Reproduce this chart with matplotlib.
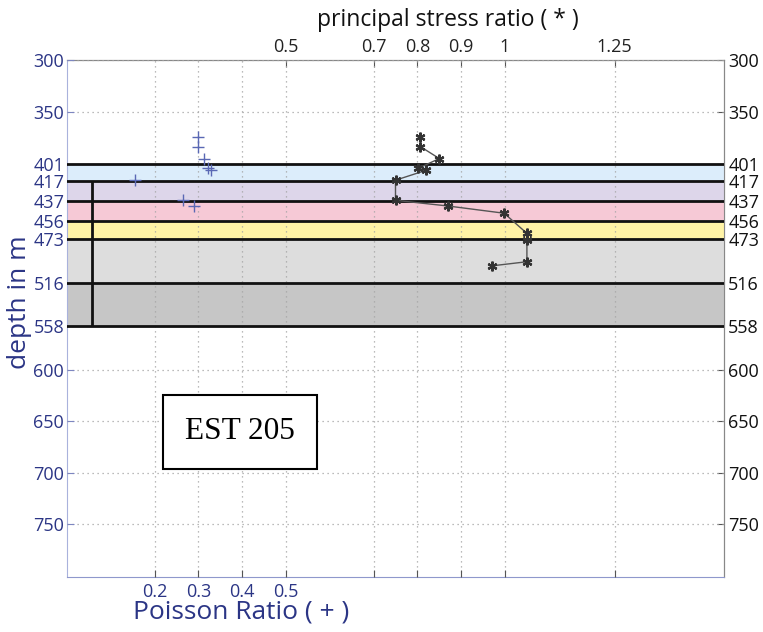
import numpy as np
import matplotlib.pyplot as plt
from matplotlib.ticker import NullFormatter

plt.rcParams['font.family'] = ['Open Sans', 'DejaVu Sans']

# depths of the measurement points (m)
depth = [375, 384, 395.5, 405, 407, 416.5, 436, 441.5]
poisson = [0.30, 0.30, 0.313, 0.322, 0.329, 0.155, 0.265, 0.29]

stress_depth = [375, 384, 395.5, 405, 407, 416.5, 436, 441.5, 448.5, 468, 474.5, 495.5, 499.5]
stress_ratio = [0.807, 0.807, 0.85, 0.802, 0.819, 0.75, 0.75, 0.87, 0.998, 1.05, 1.05, 1.05, 0.97]

# layer boundaries and fill colours
layer_tops = [401, 417, 437, 456, 473, 516]
layer_bottoms = [417, 437, 456, 473, 516, 558]
layer_colors = ['#dcedfb', '#ddd6ea', '#f6c9d6', '#fff3a6', '#dddddd', '#c6c6c6']
boundary_line_x = 0.058

depth_ticks = [300, 350, 401, 417, 437, 456, 473, 516, 558, 600, 650, 700, 750]
poisson_ticks = [0.2, 0.3, 0.4, 0.5]
stress_ticks = [0.5, 0.7, 0.8, 0.9, 1, 1.25]
stress_labels = ['0.5', '0.7', '0.8', '0.9', '1', '1.25']

navy = '#2b3585'

fig = plt.figure(figsize=(7.63, 6.32), dpi=100)
ax = fig.add_axes([0.0878, 0.087, 0.8611, 0.8181])

for top, bot, c in zip(layer_tops, layer_bottoms, layer_colors):
    ax.axhspan(top, bot, color=c, zorder=1, lw=0)
for y in sorted(set(layer_tops + layer_bottoms)):
    ax.axhline(y, color='#111111', lw=2, zorder=3)
ax.vlines(boundary_line_x, layer_tops[1], layer_bottoms[-1], color='#111111', lw=2, zorder=3)

# stress ratio: asterisks joined by a thin line
ax.plot(stress_ratio, stress_depth, color='#555555', lw=1, zorder=4)
ax.plot(stress_ratio, stress_depth, ls='none', marker=(6, 2, 0), ms=7, mew=1.6,
        color='#333333', zorder=5)
ax.plot(poisson, depth, ls='none', marker='+', ms=9, mew=1, color='#5a68b4', zorder=4)

ax.set_xlim(0, 1.5)
ax.set_ylim(801, 300)

ax.set_xticks(poisson_ticks)
ax.set_xticks([t for t in stress_ticks if t not in poisson_ticks], minor=True)
ax.xaxis.set_minor_formatter(NullFormatter())
ax.set_yticks(depth_ticks)
ax.tick_params(axis='both', which='both', direction='in', length=5, width=0.8,
               labelsize=13, pad=4)
ax.tick_params(axis='x', colors=navy, labelcolor=navy)
ax.tick_params(axis='y', colors='#7d86c0', labelcolor=navy, pad=2)
ax.tick_params(axis='x', which='both', color='#555555')

ax.grid(True, which='both', color='#a5a5a5', ls=(0, (1, 3)), lw=0.9, zorder=2)
ax.set_axisbelow(False)

for side in ['top', 'right']:
    ax.spines[side].set_color('#888888')
ax.spines['left'].set_color('#a9b2dc')
ax.spines['bottom'].set_color('#8f98cc')

top_ax = ax.secondary_xaxis('top')
top_ax.set_xticks(stress_ticks, stress_labels)
top_ax.tick_params(direction='in', length=5, width=0.8, labelsize=13, colors='#555555',
                   labelcolor='#222222', pad=3)
top_ax.spines['top'].set_color('#888888')

right_ax = ax.secondary_yaxis('right')
right_ax.set_yticks(depth_ticks)
right_ax.tick_params(direction='in', length=5, width=0.8, labelsize=13, colors='#555555',
                     labelcolor='#111111', pad=3)
right_ax.spines['right'].set_color('#888888')

fig.text(448 / 763, 1 - 20 / 632, 'principal stress ratio ( * )', ha='center', va='center',
         fontsize=16.5, color='#111111')
fig.text(241 / 763, 1 - 612 / 632, 'Poisson Ratio ( + )', ha='center', va='center',
         fontsize=19, color=navy)
fig.text(20 / 763, 1 - 302 / 632, 'depth in m', ha='center', va='center', rotation=90,
         fontsize=19, color=navy)

ax.text(0.395, 660, 'EST 205', ha='center', va='center', fontsize=22.5,
        family='Liberation Serif', color='black', zorder=6,
        bbox=dict(boxstyle='square,pad=0.72', fc='white', ec='black', lw=1.5))

fig.savefig('out.png', dpi=100)
